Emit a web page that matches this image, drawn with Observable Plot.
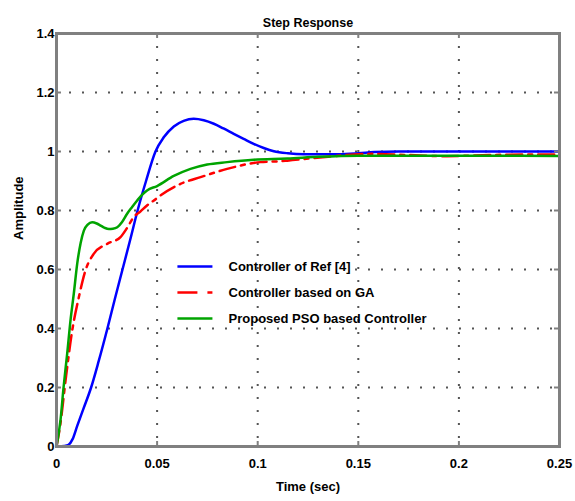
<!DOCTYPE html>
<html>
<head>
<meta charset="utf-8">
<script src="https://cdn.jsdelivr.net/npm/d3@7"></script>
<script src="https://cdn.jsdelivr.net/npm/@observablehq/plot@0.6"></script>
<style>
  html, body { margin: 0; padding: 0; background: #fff; }
  #chart svg { display: block; }
</style>
</head>
<body>
<div id="chart"></div>
<script>
// ---- Data ----
const titleText = "Step Response";
const xLabel = "Time (sec)";
const yLabel = "Amplitude";

const xTicks = [0, 0.05, 0.1, 0.15, 0.2, 0.25];
const xTickLabels = ["0", "0.05", "0.1", "0.15", "0.2", "0.25"];
const yTicks = [0, 0.2, 0.4, 0.6, 0.8, 1.0, 1.2, 1.4];
const yTickLabels = ["0", "0.2", "0.4", "0.6", "0.8", "1", "1.2", "1.4"];

const seriesNames = ["Controller of Ref [4]", "Controller based on GA", "Proposed PSO based Controller"];
const seriesColors = ["#0000ff", "#ff0000", "#00a400"];

// Controller of Ref [4]
const refT = [0, 0.004, 0.006, 0.008, 0.0103, 0.0135, 0.0172, 0.021, 0.0253, 0.029, 0.0328, 0.0366, 0.0403, 0.0445, 0.0492, 0.0533, 0.0583, 0.0632, 0.0682, 0.0732, 0.0782, 0.083, 0.0881, 0.093, 0.098, 0.103, 0.108, 0.115, 0.123, 0.14, 0.15, 0.158, 0.17, 0.25];
const refA = [0, 0.002, 0.006, 0.025, 0.07, 0.13, 0.2, 0.29, 0.4, 0.5, 0.6, 0.7, 0.8, 0.9, 1.0, 1.048, 1.085, 1.104, 1.111, 1.106, 1.094, 1.078, 1.06, 1.043, 1.026, 1.012, 1.001, 0.994, 0.991, 0.991, 0.994, 0.998, 1.0, 1.0];

// Controller based on GA
const gaT = [0, 0.002, 0.0045, 0.0078, 0.0111, 0.0144, 0.0185, 0.0252, 0.0318, 0.035, 0.0384, 0.0418, 0.045, 0.0484, 0.0517, 0.0616, 0.0716, 0.0848, 0.1014, 0.111, 0.1147, 0.1296, 0.1577, 0.175, 0.194, 0.215, 0.2356, 0.25];
const gaA = [0, 0.08, 0.224, 0.393, 0.506, 0.597, 0.653, 0.687, 0.71, 0.74, 0.778, 0.797, 0.817, 0.834, 0.851, 0.89, 0.913, 0.941, 0.964, 0.967, 0.969, 0.979, 0.992, 0.988, 0.984, 0.988, 0.99, 0.99];

// Proposed PSO based Controller
const psoT = [0, 0.002, 0.0035, 0.0053, 0.007, 0.0086, 0.0103, 0.012, 0.0136, 0.0155, 0.0177, 0.02, 0.0219, 0.024, 0.026, 0.028, 0.0302, 0.0325, 0.0351, 0.0376, 0.0401, 0.0425, 0.045, 0.05, 0.0583, 0.0666, 0.0749, 0.0848, 0.098, 0.1147, 0.13, 0.15, 0.2, 0.25];
const psoA = [0, 0.09, 0.2, 0.314, 0.43, 0.518, 0.62, 0.69, 0.732, 0.752, 0.76, 0.756, 0.749, 0.741, 0.737, 0.738, 0.743, 0.76, 0.789, 0.812, 0.834, 0.853, 0.868, 0.883, 0.917, 0.941, 0.956, 0.964, 0.972, 0.976, 0.982, 0.986, 0.986, 0.985];

// Legend placement (data units)
const legendLineX = [0.0601, 0.0775];
const legendTextX = 0.0855;
const legendRowY = [0.610, 0.522, 0.434];
const legendBox = {x1: 0.0545, x2: 0.147, y1: 0.417, y2: 0.637};

// ---- Build ----
const toRows = (ts, as) => ts.map((t, i) => ({t, a: as[i]}));
const ref = toRows(refT, refA);
const ga = toRows(gaT, gaA);
const pso = toRows(psoT, psoA);
const legendRows = seriesNames.map((name, i) => ({name, color: seriesColors[i], y: legendRowY[i]}));

const axisGray = "#808080";
const gridStyle = {stroke: "#555", strokeOpacity: 1, strokeWidth: 2, strokeDasharray: "2,11"};
const tickLenX = 0.25 * 5 / 503;
const tickLenY = 1.4 * 5 / 413;
const lineDash = "16,6,4,6";

const chart = Plot.plot({
  width: 575,
  height: 501,
  marginLeft: 56,
  marginRight: 16,
  marginTop: 33,
  marginBottom: 55,
  style: {fontFamily: "'Liberation Sans', Arial, sans-serif", fontSize: "13px", fontWeight: "bold", color: "#000", background: "#fff"},
  x: {domain: [0, 0.25]},
  y: {domain: [0, 1.4]},
  marks: [
    Plot.gridY(yTicks.slice(1, -1), gridStyle),
    Plot.rect([legendBox], {x1: "x1", x2: "x2", y1: "y1", y2: "y2", fill: "#fff"}),
    Plot.gridX(xTicks.slice(1, -1), gridStyle),
    Plot.line(ref, {x: "t", y: "a", stroke: seriesColors[0], strokeWidth: 2.5, curve: "monotone-x"}),
    Plot.line(ga, {x: "t", y: "a", stroke: seriesColors[1], strokeWidth: 2.5, strokeDasharray: lineDash, curve: "monotone-x"}),
    Plot.line(pso, {x: "t", y: "a", stroke: seriesColors[2], strokeWidth: 2.5, curve: "monotone-x"}),
    // inward ticks
    Plot.ruleX(xTicks, {y1: 0, y2: tickLenY, stroke: axisGray, strokeWidth: 2}),
    Plot.ruleX(xTicks, {y1: 1.4, y2: 1.4 - tickLenY, stroke: axisGray, strokeWidth: 2}),
    Plot.ruleY(yTicks, {x1: 0, x2: tickLenX, stroke: axisGray, strokeWidth: 2}),
    Plot.ruleY(yTicks, {x1: 0.25, x2: 0.25 - tickLenX, stroke: axisGray, strokeWidth: 2}),
    Plot.frame({stroke: axisGray, strokeWidth: 3}),
    Plot.axisX(xTicks, {tickFormat: (d, i) => xTickLabels[i], tickSize: 0, tickPadding: 12, label: null, fontWeight: "bold"}),
    Plot.axisY(yTicks, {tickFormat: (d, i) => yTickLabels[i], tickSize: 0, tickPadding: 2, label: null, fontWeight: "bold"}),
    // legend
    Plot.link(legendRows.filter((d, i) => i !== 1), {x1: legendLineX[0], x2: legendLineX[1], y1: "y", y2: "y", stroke: "color", strokeWidth: 2.5}),
    Plot.link(legendRows.filter((d, i) => i === 1), {x1: legendLineX[0], x2: legendLineX[1], y1: "y", y2: "y", stroke: "color", strokeWidth: 2.5, strokeDasharray: "20,10,5,10"}),
    Plot.text(legendRows, {x: legendTextX, y: "y", text: "name", textAnchor: "start", fontSize: 13, fontWeight: "bold", fill: "#000"}),
    // titles
    Plot.text([titleText], {frameAnchor: "top", dy: -15, fontSize: 12.5, fontWeight: "bold", fill: "#000"}),
    Plot.text([xLabel], {frameAnchor: "bottom", dy: 44, fontSize: 13, fontWeight: "bold", fill: "#000"}),
    Plot.text([yLabel], {frameAnchor: "left", dx: -38, rotate: -90, fontSize: 13, fontWeight: "bold", fill: "#000"})
  ]
});
document.getElementById("chart").appendChild(chart);
</script>
</body>
</html>
